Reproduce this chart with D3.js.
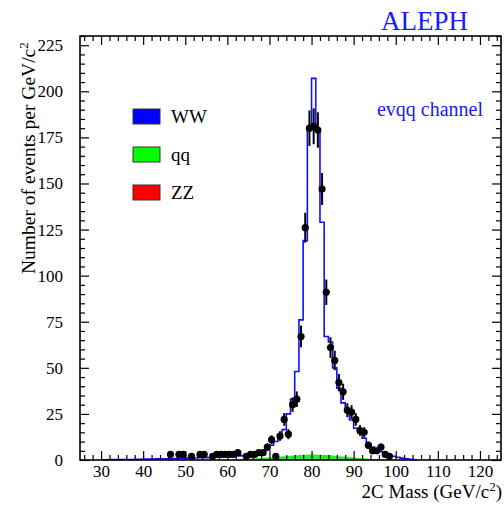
<!DOCTYPE html>
<html>
<head>
<meta charset="utf-8">
<script src="https://cdn.jsdelivr.net/npm/d3@7/dist/d3.min.js"></script>
<style>
body { margin: 0; background: #fff; }
text { font-family: "Liberation Serif", "Times New Roman", serif; fill: #000; }
</style>
</head>
<body>
<div id="chart"></div>
<script>
// histogram bins are 1 GeV wide; first bin of each array starts at *Start
var wwStart = 30;
var wwVals = [0.1, 0.1, 0.2, 0.2, 0.2, 0.3, 0.3, 0.3, 0.4, 0.4,
    0.5, 0.5, 0.5, 0.6, 0.6, 0.7, 0.7, 0.8, 0.8, 0.9,
    1.0, 1.0, 1.1, 1.2, 1.3, 1.3, 1.4, 1.5, 1.6, 1.7,
    1.7, 1.7, 1.8, 1.9, 2.0, 2.2, 2.3, 2.6, 3.0, 4.1,
    6.5, 8.3, 10.1, 14.5, 22.8, 30.6, 45.4, 73.2, 116.1, 176,
    204, 176.1, 126.1, 64.3, 61.4, 47.7, 36.9, 29.1, 25.3, 20.2,
    15.9, 13.4, 10.9, 8.3, 6.4, 5.1, 4.2, 3.4, 2.4, 2.0,
    1.5, 1.0, 0.7, 0.4, 0];

var qqStart = 60;
var qqVals = [0.2, 0.3, 0.4, 0.5, 0.6, 0.7, 0.9, 1.0, 1.2, 1.3,
    1.5, 1.7, 1.9, 2.0, 2.2, 2.4, 2.6, 2.8, 2.9, 3.0,
    3.0, 2.9, 2.8, 2.6, 2.4, 2.1, 1.9, 1.6, 1.4, 1.2,
    1.0, 0.8, 0.6, 0.5, 0.4, 0.3, 0.2, 0.1, 0.1];

var zzStart = 82;
var zzVals = [0.1, 0.1, 0.2, 0.2, 0.2, 0.3, 0.3, 0.3, 0.3, 0.3, 0.3, 0.2, 0.2, 0.1, 0.1];

// data points (bin centre, events, error)
var dataMass = [46.5, 48.5, 49.5, 51.5, 53.5, 54.5, 56.5, 57.5, 58.5, 59.5,
    60.5, 61.5, 62.5, 64.5, 65.5, 66.5, 67.5, 68.5, 69.5, 70.5,
    71.5, 72.5, 73.5, 74.5, 75.5, 76.5, 77.5, 78.5, 79.5, 80.5,
    81.5, 82.5, 83.5, 84.5, 85.5, 86.5, 87.5, 88.5, 89.5, 90.5,
    91.5, 92.5, 93.5, 94.5, 95.5, 96.5, 97.5, 98.5];
var dataCount = [3, 3, 3, 2, 3, 3, 2, 3, 3, 3,
    3, 3, 4, 2, 3, 3, 4, 4, 7, 11,
    2, 13, 22, 14, 30, 33, 67, 126, 180, 181,
    179, 147, 91, 61, 54, 42, 37, 27, 26, 22,
    16, 15, 8, 5, 5, 7, 3, 2];
var dataErr = [1.2, 1.2, 1.2, 1.0, 1.2, 1.2, 1.0, 1.2, 1.2, 1.2,
    1.2, 1.2, 1.4, 1.0, 1.2, 1.2, 1.4, 1.4, 1.9, 2.4,
    1.0, 2.6, 3.4, 2.7, 3.9, 4.2, 5.9, 8.1, 9.6, 9.7,
    9.6, 8.7, 6.9, 5.6, 5.3, 4.7, 4.4, 3.8, 3.7, 3.4,
    2.9, 2.8, 2.1, 1.7, 1.6, 1.9, 1.2, 1.0];

var xTicks = [30, 40, 50, 60, 70, 80, 90, 100, 110, 120];
var yTicks = [0, 25, 50, 75, 100, 125, 150, 175, 200, 225];
var legendNames = ["WW", "qq", "ZZ"];
var legendColors = ["#0000ff", "#00ff00", "#ff0000"];

var width = 504;
var height = 510;
var margin = { left: 80, top: 36, right: 3, bottom: 50 };

var svg = d3.select("#chart").append("svg")
    .attr("width", width)
    .attr("height", height);

var x = d3.scaleLinear().domain([25, 125]).range([margin.left, width - margin.right]);
var y = d3.scaleLinear().domain([0, 230]).range([height - margin.bottom, margin.top]);

// stack ZZ, qq, WW into per-bin rows
var bins = wwVals.map(function (w, i) {
    var lo = wwStart + i;
    var zz = zzVals[lo - zzStart] || 0;
    var qq = qqVals[lo - qqStart] || 0;
    return { lo: lo, zz: zz, qq: zz + qq, tot: zz + qq + w };
});
// extra point so the last step closes
var last = bins[bins.length - 1];
var stepData = bins.concat([{ lo: last.lo + 1, zz: last.zz, qq: last.qq, tot: last.tot }]);

var zzArea = d3.area().curve(d3.curveStepAfter)
    .x(function (d) { return x(d.lo); })
    .y0(y(0))
    .y1(function (d) { return y(d.zz); });
var qqArea = d3.area().curve(d3.curveStepAfter)
    .x(function (d) { return x(d.lo); })
    .y0(function (d) { return y(d.zz); })
    .y1(function (d) { return y(d.qq); });
var totLine = d3.line().curve(d3.curveStepAfter)
    .x(function (d) { return x(d.lo); })
    .y(function (d) { return y(d.tot); });

svg.append("path").datum(stepData)
    .attr("d", qqArea)
    .attr("fill", "#2ee82e");
svg.append("path").datum(stepData)
    .attr("d", zzArea)
    .attr("fill", "#ff0000");
svg.append("path").datum(stepData)
    .attr("d", totLine)
    .attr("fill", "none")
    .attr("stroke", "#1010ff")
    .attr("stroke-width", 1.6);

// axes, ticks inside the frame
function minorOf(lo, hi, step, major) {
    return d3.range(lo, hi + 0.001, step).filter(function (v) { return v % major !== 0; });
}
var xMinor = minorOf(26, 124, 2, 10);
var yMinor = minorOf(5, 230, 5, 25);

svg.append("g").attr("transform", "translate(0," + y(0) + ")")
    .call(d3.axisBottom(x).tickValues(xTicks).tickSize(-9).tickPadding(5));
svg.append("g").attr("transform", "translate(0," + y(0) + ")")
    .call(d3.axisBottom(x).tickValues(xMinor).tickSize(-5).tickFormat(""));
svg.append("g").attr("transform", "translate(0," + margin.top + ")")
    .call(d3.axisTop(x).tickValues(xTicks).tickSize(-9).tickFormat(""));
svg.append("g").attr("transform", "translate(0," + margin.top + ")")
    .call(d3.axisTop(x).tickValues(xMinor).tickSize(-5).tickFormat(""));

svg.append("g").attr("transform", "translate(" + margin.left + ",0)")
    .call(d3.axisLeft(y).tickValues(yTicks).tickSize(-9).tickPadding(17));
svg.append("g").attr("transform", "translate(" + margin.left + ",0)")
    .call(d3.axisLeft(y).tickValues(yMinor).tickSize(-5).tickFormat(""));
svg.append("g").attr("transform", "translate(" + (width - margin.right) + ",0)")
    .call(d3.axisRight(y).tickValues(yTicks).tickSize(-9).tickFormat(""));
svg.append("g").attr("transform", "translate(" + (width - margin.right) + ",0)")
    .call(d3.axisRight(y).tickValues(yMinor).tickSize(-5).tickFormat(""));

svg.selectAll(".domain").remove();
svg.selectAll(".tick line").attr("stroke", "#000").attr("stroke-width", 1.2);
svg.selectAll(".tick text")
    .style("font-family", '"Liberation Serif", "Times New Roman", serif')
    .style("font-size", "17px")
    .attr("fill", "#000");

svg.append("rect")
    .attr("x", x(25))
    .attr("y", y(230))
    .attr("width", x(125) - x(25))
    .attr("height", y(0) - y(230))
    .attr("fill", "none")
    .attr("stroke", "#000")
    .attr("stroke-width", 1.6);

// data with error bars
var pts = dataMass.map(function (m, i) {
    return { m: m, n: dataCount[i], e: dataErr[i] };
});
svg.selectAll(".err").data(pts).enter().append("line")
    .attr("class", "err")
    .attr("x1", function (d) { return x(d.m); })
    .attr("x2", function (d) { return x(d.m); })
    .attr("y1", function (d) { return y(d.n - d.e); })
    .attr("y2", function (d) { return y(d.n + d.e); })
    .attr("stroke", "#000")
    .attr("stroke-width", 2);
svg.selectAll(".pt").data(pts).enter().append("circle")
    .attr("class", "pt")
    .attr("cx", function (d) { return x(d.m); })
    .attr("cy", function (d) { return y(d.n); })
    .attr("r", 3.6)
    .attr("fill", "#000");

// legend
var leg = svg.selectAll(".leg").data(legendNames).enter().append("g")
    .attr("class", "leg")
    .attr("transform", function (d, i) { return "translate(133," + (109 + i * 38) + ")"; });
leg.append("rect")
    .attr("width", 27)
    .attr("height", 15)
    .attr("fill", function (d, i) { return legendColors[i]; })
    .attr("stroke", "#333")
    .attr("stroke-width", 1);
leg.append("text")
    .attr("x", 38)
    .attr("y", 14)
    .style("font-size", "19px")
    .text(function (d) { return d; });

// labels
svg.append("text")
    .attr("x", 468)
    .attr("y", 30)
    .attr("text-anchor", "end")
    .style("font-size", "27px")
    .style("fill", "#1a1aff")
    .text("ALEPH");

svg.append("text")
    .attr("x", 483)
    .attr("y", 116)
    .attr("text-anchor", "end")
    .style("font-size", "20px")
    .style("fill", "#1a1aff")
    .text("evqq channel");

var xt = svg.append("text")
    .attr("x", 502)
    .attr("y", 498)
    .attr("text-anchor", "end")
    .style("font-size", "19px");
xt.append("tspan").text("2C Mass (GeV/c");
xt.append("tspan").attr("dy", -7).style("font-size", "13px").text("2");
xt.append("tspan").attr("dy", 7).text(")");

var yt = svg.append("text")
    .attr("transform", "translate(35,274) rotate(-90)")
    .attr("text-anchor", "start")
    .style("font-size", "19.5px");
yt.append("tspan").text("Number of events per GeV/c");
yt.append("tspan").attr("dy", -7).style("font-size", "13px").text("2");
</script>
</body>
</html>
